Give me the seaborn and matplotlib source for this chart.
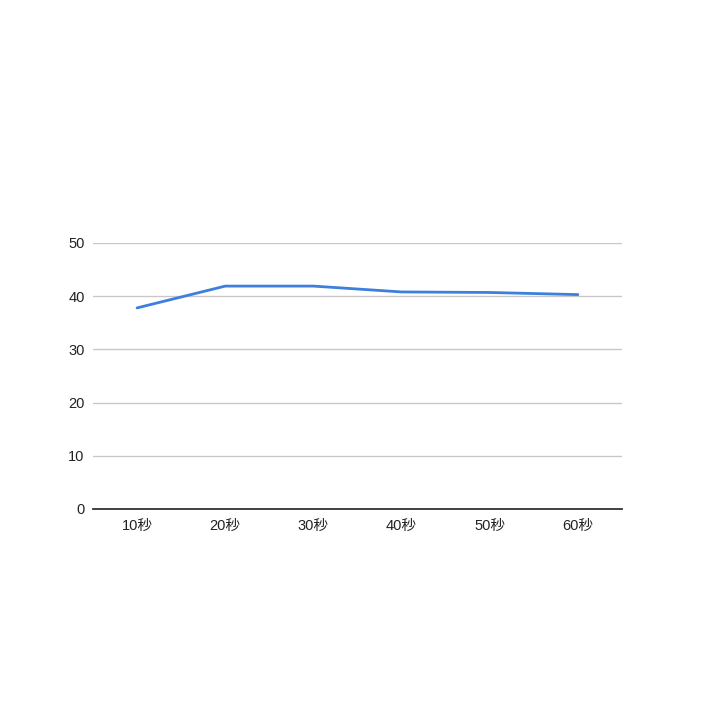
import pandas as pd
import seaborn as sns
import matplotlib.pyplot as plt

# data
labels = ["10秒", "20秒", "30秒", "40秒", "50秒", "60秒"]
values = [37.8, 41.9, 41.9, 40.8, 40.7, 40.3]

df = pd.DataFrame({"time": labels, "value": values})

sns.set_style("white")
plt.rcParams["font.family"] = ["Liberation Sans", "Noto Sans CJK JP", "DejaVu Sans"]

fig = plt.figure(figsize=(7.19, 7.18), dpi=100)
ax = fig.add_axes([93 / 719, 1 - 509 / 718, 529 / 719, 266 / 718])

sns.lineplot(data=df, x="time", y="value", ax=ax, color="#3d7fdc", linewidth=2.0, sort=False)

ax.set_xlim(-0.5, len(labels) - 0.5)
ax.set_ylim(0, 50)
ax.set_yticks([0, 10, 20, 30, 40, 50])
ax.grid(axis="y", color="#c8c8c8", linewidth=1.0)
ax.grid(axis="x", visible=False)
ax.set_axisbelow(True)
for s in ["top", "right", "left"]:
    ax.spines[s].set_visible(False)
ax.spines["bottom"].set_color("#333333")
ax.spines["bottom"].set_linewidth(1.3)
ax.tick_params(axis="both", length=0, labelsize=10.5, colors="#222222")
ax.tick_params(axis="y", pad=6)
ax.tick_params(axis="x", pad=7.5)
ax.set_xlabel("")
ax.set_ylabel("")

fig.savefig("out.png", dpi=100, facecolor="white")
